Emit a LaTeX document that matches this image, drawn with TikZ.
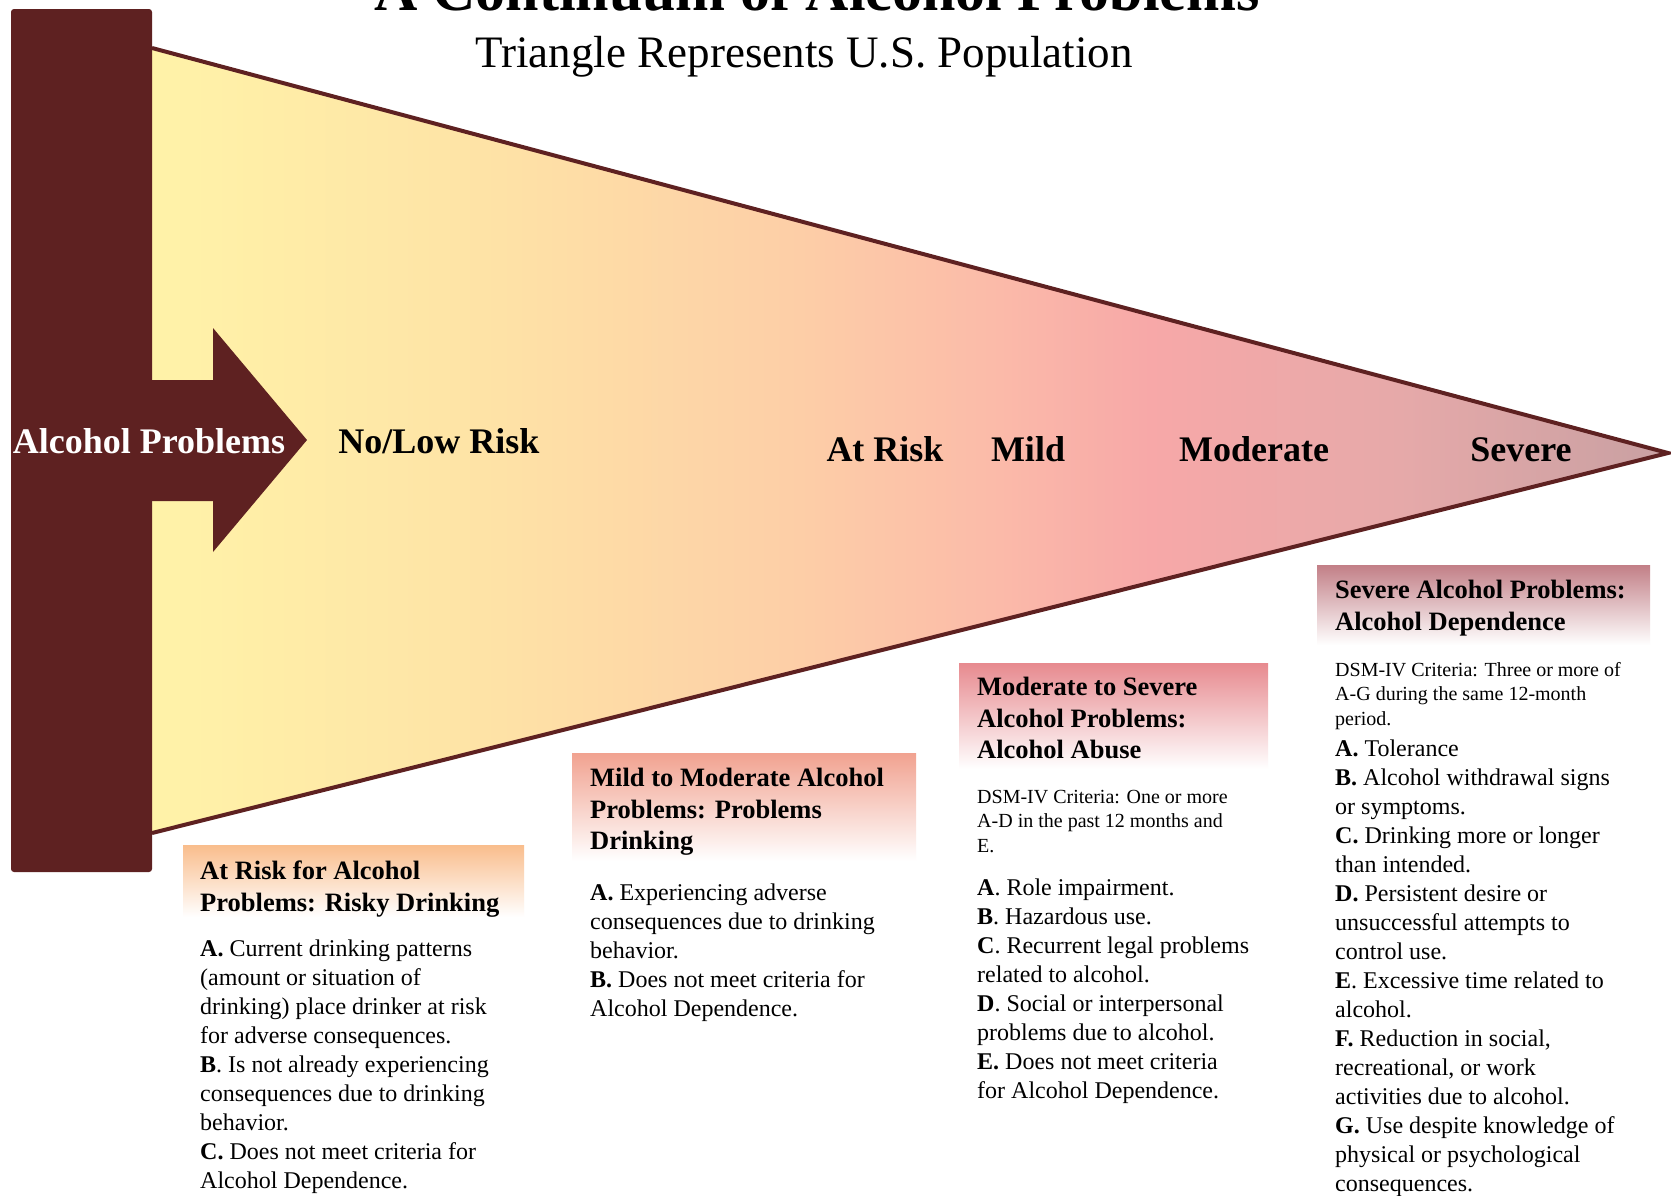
\documentclass[tikz,border=0pt]{standalone}
\usepackage{fontspec}
\setmainfont{Liberation Serif}

\definecolor{barred}{HTML}{5E2121}
\definecolor{shA}{HTML}{FFF3A8}
\definecolor{shB}{HTML}{FEE2A6}
\definecolor{shC}{HTML}{FDCEA7}
\definecolor{shD}{HTML}{FBBAA9}
\definecolor{shE}{HTML}{F7A8A8}
\definecolor{shF}{HTML}{E6A9A9}
\definecolor{shG}{HTML}{C8A0A2}
\definecolor{hdA}{HTML}{F9BD8C}
\definecolor{hdB}{HTML}{F1A290}
\definecolor{hdC}{HTML}{E78A8F}
\definecolor{hdD}{HTML}{C27F87}

\tikzstyle{stage} = [inner sep=0, anchor=base, font=\fontsize{36}{40}\selectfont\bfseries]
\tikzstyle{hdr} = [inner sep=0, anchor=north west, align=left, font=\fontsize{26.5}{31.5}\selectfont\bfseries]
\tikzstyle{crit} = [inner sep=0, anchor=north west, align=left, font=\fontsize{20}{24.5}\selectfont]
\tikzstyle{body} = [inner sep=0, anchor=north west, align=left, font=\fontsize{24}{29}\selectfont]
\tikzstyle{hbox} = [bottom color=white, draw=none]

\begin{document}
\begin{tikzpicture}[x=1pt,y=-1pt]

\useasboundingbox (0,0) rectangle (1671,1195);
\fill[white] (0,0) rectangle (1671,1195);

% triangle
\begin{scope}
  \clip (152,48) -- (1668,453) -- (152,833) -- cycle;
  \foreach \xa/\xb/\ca/\cb in {150/500/shA/shB, 500/800/shB/shC, 800/1000/shC/shD,
      1000/1150/shD/shE, 1150/1400/shE/shF, 1400/1671/shF/shG}
    \shade[left color=\ca, right color=\cb] (\xa-1,40) rectangle (\xb+1,840);
\end{scope}
\draw[barred, line width=4pt, line join=miter] (152,48) -- (1668,453) -- (152,833);

\fill[barred, rounded corners=3pt] (11,9) rectangle (152,872);
\fill[barred] (150,380) -- (213,380) -- (213,328) -- (307,440) -- (213,552) -- (213,501) -- (150,501) -- cycle;

\node[inner sep=0, anchor=base, font=\fontsize{60}{64}\selectfont\bfseries] (title) at (817,10) {A Continuum of Alcohol Problems};
\node[inner sep=0, anchor=base, font=\fontsize{45}{50}\selectfont] (subtitle) at (804,67) {Triangle Represents U.S. Population};

\node[stage, text=white] (probs) at (149,453) {Alcohol Problems};
\node[stage] (nolow) at (439,453) {No/Low Risk};
\node[stage] (atrisk) at (885,461) {At Risk};
\node[stage] (mild) at (1028,461) {Mild};
\node[stage] (moderate) at (1254,461) {Moderate};
\node[stage] (severe) at (1521,461) {Severe};

% at risk
\shade[hbox, top color=hdA] (183,845) rectangle (524,917);
\node[hdr] (riskyhdr) at (200,861) {At Risk for Alcohol\\Problems: Risky Drinking};
\node[body] (riskybody) at (200,940) {\textbf{A.} Current drinking patterns\\(amount or situation of\\drinking) place drinker at risk\\for adverse consequences.\\\textbf{B}. Is not already experiencing\\consequences due to drinking\\behavior.\\\textbf{C.} Does not meet criteria for\\Alcohol Dependence.};

% mild to moderate
\shade[hbox, top color=hdB] (572,753) rectangle (916,861);
\node[hdr] (probhdr) at (590,768) {Mild to Moderate Alcohol\\Problems: Problems\\Drinking};
\node[body] (probbody) at (590,884) {\textbf{A.} Experiencing adverse\\consequences due to drinking\\behavior.\\\textbf{B.} Does not meet criteria for\\Alcohol Dependence.};

% moderate to severe
\shade[hbox, top color=hdC] (959,663) rectangle (1268,769);
\node[hdr] (abusehdr) at (977,677) {Moderate to Severe\\Alcohol Problems:\\Alcohol Abuse};
\node[crit] (abusecrit) at (977,790) {DSM-IV Criteria: One or more\\A-D in the past 12 months and\\E.};
\node[body] (abusebody) at (977,879) {\textbf{A}. Role impairment.\\\textbf{B}. Hazardous use.\\\textbf{C}. Recurrent legal problems\\related to alcohol.\\\textbf{D}. Social or interpersonal\\problems due to alcohol.\\\textbf{E.} Does not meet criteria\\for Alcohol Dependence.};

% severe
\shade[hbox, top color=hdD] (1317,565) rectangle (1650,645);
\node[hdr] (dephdr) at (1335,580) {Severe Alcohol Problems:\\Alcohol Dependence};
\node[crit] (depcrit) at (1335,662) {DSM-IV Criteria: Three or more of\\A-G during the same 12-month\\period.};
\node[body] (depbody) at (1335,740) {\textbf{A.} Tolerance\\\textbf{B.} Alcohol withdrawal signs\\or symptoms.\\\textbf{C.} Drinking more or longer\\than intended.\\\textbf{D.} Persistent desire or\\unsuccessful attempts to\\control use.\\\textbf{E}. Excessive time related to\\alcohol.\\\textbf{F.} Reduction in social,\\recreational, or work\\activities due to alcohol.\\\textbf{G.} Use despite knowledge of\\physical or psychological\\consequences.};

\end{tikzpicture}
\end{document}
